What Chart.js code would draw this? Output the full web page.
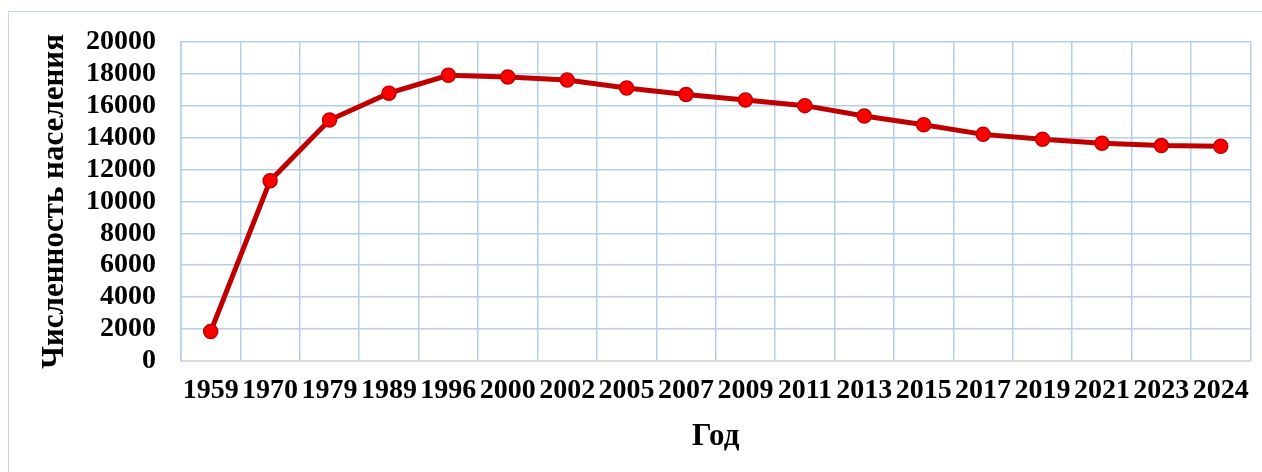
<!DOCTYPE html>
<html>
<head>
<meta charset="utf-8">
<script src="https://cdn.jsdelivr.net/npm/chart.js@4/dist/chart.umd.min.js"></script>
<style>
  html, body { margin: 0; padding: 0; background: #fff; }
  #wrap { width: 1262px; height: 472px; position: relative; }
</style>
</head>
<body>
<div id="wrap"><canvas id="popChart" width="1262" height="472"></canvas></div>
<script>
// =========================
// DATA
// =========================
const years = ["1959", "1970", "1979", "1989", "1996", "2000", "2002", "2005", "2007",
  "2009", "2011", "2013", "2015", "2017", "2019", "2021", "2023", "2024"];

const population = [1850, 11300, 15100, 16780, 17900, 17800, 17600, 17100, 16700,
  16350, 16000, 15350, 14800, 14200, 13900, 13650, 13500, 13450];

const yMin = 0;
const yMax = 20000;
const yStep = 2000;

const yTitle = "Численность населения";
const xTitle = "Год";

// outer frame, like the office chart border
const framePlugin = {
  id: "frame",
  beforeDraw(chart) {
    const c = chart.ctx;
    c.save();
    c.strokeStyle = "#bdd7ee";
    c.lineWidth = 1;
    c.strokeRect(8.5, 11.5, 1400, 600);
    c.restore();
  }
};

const fontFamily = "'Liberation Serif', 'Times New Roman', serif";

// =========================
// CHART
// =========================
const ctx = document.getElementById("popChart").getContext("2d");

new Chart(ctx, {
  type: "line",
  data: {
    labels: years,
    datasets: [{
      data: population,
      borderColor: "#c00000",
      borderWidth: 5,
      backgroundColor: "#ff0000",
      pointBackgroundColor: "#ff0000",
      pointBorderColor: "#c00000",
      pointBorderWidth: 1.5,
      pointRadius: 7,
      tension: 0
    }]
  },
  options: {
    responsive: false,
    animation: false,
    events: [],
    layout: {
      padding: { left: 0, top: 38, right: 5, bottom: 0 }
    },
    plugins: {
      legend: { display: false },
      tooltip: { enabled: false }
    },
    scales: {
      x: {
        offset: true,
        grid: {
          offset: true,
          color: "#b4cfec",
          lineWidth: 1.5,
          drawTicks: false
        },
        border: { color: "#d9d9d9", width: 2 },
        ticks: {
          padding: 13,
          maxRotation: 0,
          autoSkip: false,
          color: "#000",
          font: { family: fontFamily, size: 28, weight: "bold" }
        },
        title: {
          display: true,
          text: xTitle,
          color: "#000",
          padding: { top: 0, bottom: 16 },
          font: { family: fontFamily, size: 31, weight: "bold" }
        },
        afterFit(scale) {
          scale.height = 472 - 361;
        }
      },
      y: {
        min: yMin,
        max: yMax,
        grid: {
          color: "#b4cfec",
          lineWidth: 1.5,
          drawTicks: false
        },
        border: { color: "#b4cfec", width: 1.5 },
        ticks: {
          stepSize: yStep,
          autoSkip: false,
          padding: 25,
          color: "#000",
          font: { family: fontFamily, size: 28, weight: "bold" },
          callback: (value) => String(value)
        },
        title: {
          display: true,
          text: yTitle,
          color: "#000",
          padding: { top: 36, bottom: 0 },
          font: { family: fontFamily, size: 31, weight: "bold" }
        },
        afterFit(scale) {
          scale.width = 181;
        }
      }
    }
  },
  plugins: [framePlugin]
});
</script>
</body>
</html>
